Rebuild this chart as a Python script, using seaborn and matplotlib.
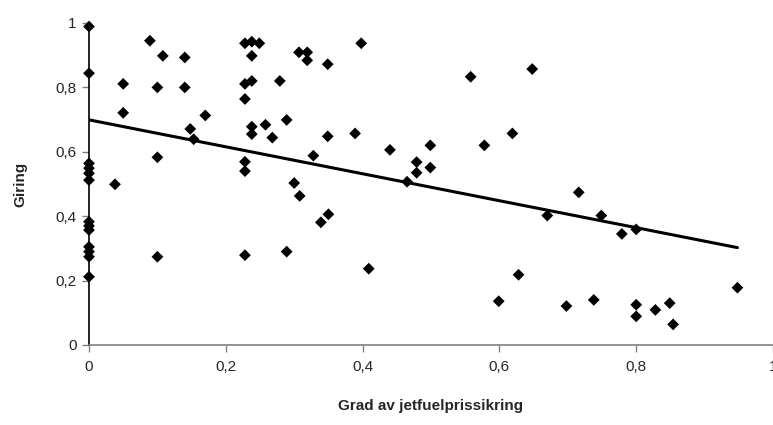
import numpy as np
import pandas as pd
import matplotlib
matplotlib.use("Agg")
import matplotlib.pyplot as plt
import seaborn as sns

# Data
hedge = [0, 0, 0, 0, 0, 0, 0, 0, 0, 0, 0, 0, 0,
         0.038, 0.050, 0.050, 0.089, 0.100, 0.100, 0.100, 0.108, 0.140, 0.140,
         0.148, 0.153, 0.170, 0.228, 0.238, 0.249, 0.238, 0.228, 0.238, 0.228,
         0.238, 0.238, 0.228, 0.228, 0.228, 0.258, 0.268, 0.279, 0.289, 0.289,
         0.300, 0.308, 0.307, 0.319, 0.319, 0.328, 0.339, 0.350, 0.349, 0.349,
         0.389, 0.398, 0.409, 0.440, 0.465, 0.479, 0.479, 0.499, 0.499, 0.558,
         0.578, 0.599, 0.619, 0.628, 0.648, 0.670, 0.698, 0.716, 0.738, 0.749,
         0.779, 0.800, 0.800, 0.800, 0.828, 0.849, 0.854, 0.948]
gearing = [0.989, 0.844, 0.564, 0.549, 0.533, 0.512, 0.383, 0.370, 0.357, 0.305,
           0.290, 0.274, 0.212,
           0.499, 0.811, 0.721, 0.945, 0.800, 0.583, 0.274, 0.898, 0.893, 0.800,
           0.671, 0.639, 0.713, 0.937, 0.942, 0.937, 0.898, 0.811, 0.820, 0.764,
           0.678, 0.655, 0.569, 0.540, 0.279, 0.684, 0.644, 0.820, 0.699, 0.290,
           0.503, 0.463, 0.909, 0.909, 0.884, 0.588, 0.381, 0.406, 0.872, 0.648,
           0.657, 0.937, 0.237, 0.606, 0.507, 0.568, 0.535, 0.620, 0.551, 0.833,
           0.620, 0.136, 0.657, 0.218, 0.857, 0.402, 0.121, 0.474, 0.140, 0.402,
           0.345, 0.359, 0.125, 0.089, 0.109, 0.130, 0.064, 0.178]

x_ticks = [0, 0.2, 0.4, 0.6, 0.8, 1.0]
x_tick_labels = ["0", "0,2", "0,4", "0,6", "0,8", "1"]
y_ticks = [0, 0.2, 0.4, 0.6, 0.8, 1.0]
y_tick_labels = ["0", "0,2", "0,4", "0,6", "0,8", "1"]

df = pd.DataFrame({"hedge": hedge, "gearing": gearing})

sns.set_style("white")
plt.rcParams["font.family"] = ["Liberation Sans", "DejaVu Sans"]

fig = plt.figure(figsize=(7.73, 4.25), dpi=100)
ax = fig.add_axes([89 / 773, 80 / 425, 684 / 773, 322 / 425])

sns.regplot(data=df, x="hedge", y="gearing", ax=ax, ci=None, truncate=True,
            marker="D",
            scatter_kws=dict(s=36, color="black", alpha=1, edgecolors="none",
                             clip_on=False, zorder=3),
            line_kws=dict(color="black", lw=2.2, zorder=2))

ax.set_xlim(0, 1)
ax.set_ylim(0, 1)
ax.set_xticks(x_ticks)
ax.set_xticklabels(x_tick_labels)
ax.set_yticks(y_ticks)
ax.set_yticklabels(y_tick_labels)

for s in ["top", "right"]:
    ax.spines[s].set_visible(False)
ax.spines["left"].set_color("black")
ax.spines["left"].set_linewidth(1.2)
ax.spines["bottom"].set_color("#808080")
ax.spines["bottom"].set_linewidth(1.2)

ax.tick_params(axis="y", direction="out", length=5, width=1, color="#808080",
               labelsize=11, pad=4, left=True)
ax.tick_params(axis="x", direction="out", length=5, width=1, color="#808080",
               labelsize=11, pad=6, bottom=True)

ax.set_xlabel("Grad av jetfuelprissikring", fontsize=11, fontweight="bold", labelpad=18)
ax.set_ylabel("Giring", fontsize=11, fontweight="bold", labelpad=20)

fig.savefig("out.png", dpi=100)
